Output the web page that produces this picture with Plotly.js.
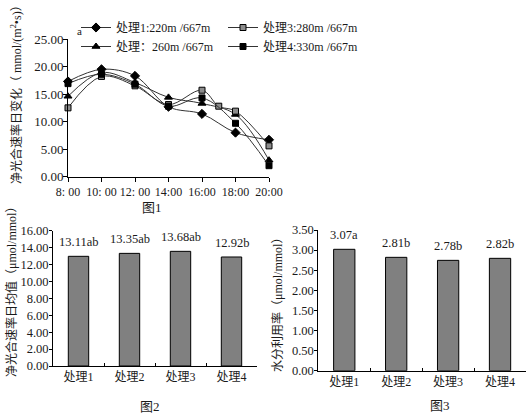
<!DOCTYPE html>
<html>
<head>
<meta charset="utf-8">
<script src="https://cdn.plot.ly/plotly-3.0.1.min.js"></script>
<style>html,body{margin:0;padding:0;background:#fff;}#chart{width:527px;height:415px;}</style>
</head>
<body>
<div id="chart"></div>
<script>
// ---- Data ----
const hours = [8, 10, 12, 14, 16, 18, 20];
const hours3 = [8, 10, 12, 14, 16, 17, 18, 20];
const hourLabels = ['8: 00', '10: 00', '12: 00', '14:00', '16:00', '18:00', '20:00'];
const seriesNames = ['处理1:220m /667m', '处理：260m /667m', '处理3:280m /667m', '处理4:330m /667m'];
const s1 = [17.3, 19.5, 18.3, 12.7, 11.4, 8.0, 6.7];
const s2 = [14.6, 18.9, 17.1, 14.4, 13.3, 11.3, 3.0];
const s3 = [12.5, 18.2, 16.5, 13.1, 15.7, 12.8, 11.9, 5.6];
const s4 = [16.9, 18.6, 16.8, 12.8, 14.3, 9.7, 2.0];

const categories = ['处理1', '处理2', '处理3', '处理4'];
const meanRate = [12.97, 13.32, 13.56, 12.89];
const meanRateLabels = ['13.11ab', '13.35ab', '13.68ab', '12.92b'];
const wue = [3.02, 2.82, 2.745, 2.795];
const wueLabels = ['3.07a', '2.81b', '2.78b', '2.82b'];

// ---- Styling ----
const W = 527, H = 415;
const FONT = 'Liberation Serif, Noto Sans CJK SC, serif';
const TXT = '#1a1a1a';
const px = v => v / W;
const py = v => 1 - v / H;

function lineTrace(x, y, name, symbol, color, size, legend) {
  return {
    type: 'scatter', mode: 'lines+markers', x: x, y: y, name: name,
    xaxis: 'x', yaxis: 'y', legend: legend, cliponaxis: false,
    line: {shape: 'spline', smoothing: 1, color: '#333', width: 1},
    marker: {symbol: symbol, size: size, color: color, line: {color: '#000', width: 1}}
  };
}

const traces = [
  lineTrace(hours, s1, seriesNames[0], 'diamond', '#000', 7, 'legend'),
  lineTrace(hours, s2, seriesNames[1], 'triangle-up', '#000', 7, 'legend'),
  lineTrace(hours3, s3, seriesNames[2], 'square', '#8c8c8c', 6, 'legend2'),
  lineTrace(hours, s4, seriesNames[3], 'square', '#000', 6, 'legend2'),
  {type: 'bar', x: categories, y: meanRate, xaxis: 'x2', yaxis: 'y2', showlegend: false, width: 0.4,
   marker: {color: '#808080', line: {color: '#000', width: 1}}},
  {type: 'bar', x: categories, y: wue, xaxis: 'x3', yaxis: 'y3', showlegend: false, width: 0.41,
   marker: {color: '#808080', line: {color: '#000', width: 1}}}
];

const baseAxis = {
  showline: true, linecolor: '#000', linewidth: 1, showgrid: false, zeroline: false,
  ticks: 'outside', ticklen: 4, tickcolor: '#000', tickwidth: 1,
  tickfont: {family: FONT, size: 13, color: TXT}, fixedrange: true
};

const annotations = [];
categories.forEach((c, i) => {
  annotations.push({xref: 'x2', yref: 'y2', x: c, y: meanRate[i], text: meanRateLabels[i], showarrow: false,
    xanchor: 'center', yanchor: 'bottom', yshift: 5, font: {family: FONT, size: 12.5, color: TXT}});
  annotations.push({xref: 'x3', yref: 'y3', x: c, y: wue[i], text: wueLabels[i], showarrow: false,
    xanchor: 'center', yanchor: 'bottom', yshift: 5, font: {family: FONT, size: 12.5, color: TXT}});
});
function note(x, y, text, size, angle) {
  return {xref: 'paper', yref: 'paper', x: px(x), y: py(y), xanchor: 'center', yanchor: 'middle',
    textangle: angle || 0, text: text, showarrow: false, font: {family: FONT, size: size, color: TXT}};
}
annotations.push(
  note(17, 92, '净光合速率日变化（ mmol/(m<sup>2</sup>•s)）', 12, -90),
  note(11, 289, '净光合速率日均值（μmol/mmol）', 12, -90),
  note(277, 302, '水分利用率（μmol/mmol）', 12, -90),
  note(79, 31, 'a', 11),
  note(152, 207, '图1', 13),
  note(150, 406, '图2', 13),
  note(440, 405, '图3', 13)
);

const legendBase = {
  xanchor: 'left', yanchor: 'top', bgcolor: 'rgba(0,0,0,0)', borderwidth: 0,
  font: {family: FONT, size: 12, color: TXT}, tracegroupgap: 0, itemwidth: 30, itemclick: false, itemdoubleclick: false
};

const layout = {
  width: W, height: H, margin: {l: 0, r: 0, t: 0, b: 0},
  paper_bgcolor: '#fff', plot_bgcolor: 'rgba(0,0,0,0)', hovermode: false,
  font: {family: FONT, size: 13, color: TXT},
  showlegend: true,
  legend: Object.assign({}, legendBase, {x: px(76), y: py(13)}),
  legend2: Object.assign({}, legendBase, {x: px(223), y: py(13)}),
  xaxis: Object.assign({}, baseAxis, {domain: [px(68), px(269)], range: [8, 20], tickvals: hours, ticktext: hourLabels,
    tickangle: 0, tickfont: {family: FONT, size: 12, color: TXT}, anchor: 'y'}),
  yaxis: Object.assign({}, baseAxis, {domain: [py(176.7), py(39)], range: [0, 25], dtick: 5, tickformat: '.2f',
    ticklabelstandoff: -3, anchor: 'x'}),
  xaxis2: Object.assign({}, baseAxis, {domain: [px(53), px(257)], type: 'category', ticks: 'inside', tickson: 'boundaries', ticklen: 3,
    tickangle: 0, tickfont: {family: FONT, size: 12, color: TXT}, anchor: 'y2'}),
  yaxis2: Object.assign({}, baseAxis, {domain: [py(366), py(230.7)], range: [0, 16], dtick: 2, tickformat: '.2f', ticklen: 3,
    ticklabelstandoff: -2, tickfont: {family: FONT, size: 12.5, color: TXT}, anchor: 'x2'}),
  xaxis3: Object.assign({}, baseAxis, {domain: [px(318.3), px(526)], type: 'category', ticks: 'inside', tickson: 'boundaries', ticklen: 3,
    tickangle: 0, tickfont: {family: FONT, size: 12, color: TXT}, anchor: 'y3'}),
  yaxis3: Object.assign({}, baseAxis, {domain: [py(370.7), py(230)], range: [0, 3.5], dtick: 0.5, tickformat: '.2f', ticklen: 3,
    ticklabelstandoff: -2, tickfont: {family: FONT, size: 12.5, color: TXT}, anchor: 'x3'}),
  annotations: annotations
};

Plotly.newPlot('chart', traces, layout, {staticPlot: true, displayModeBar: false});
</script>
</body>
</html>
